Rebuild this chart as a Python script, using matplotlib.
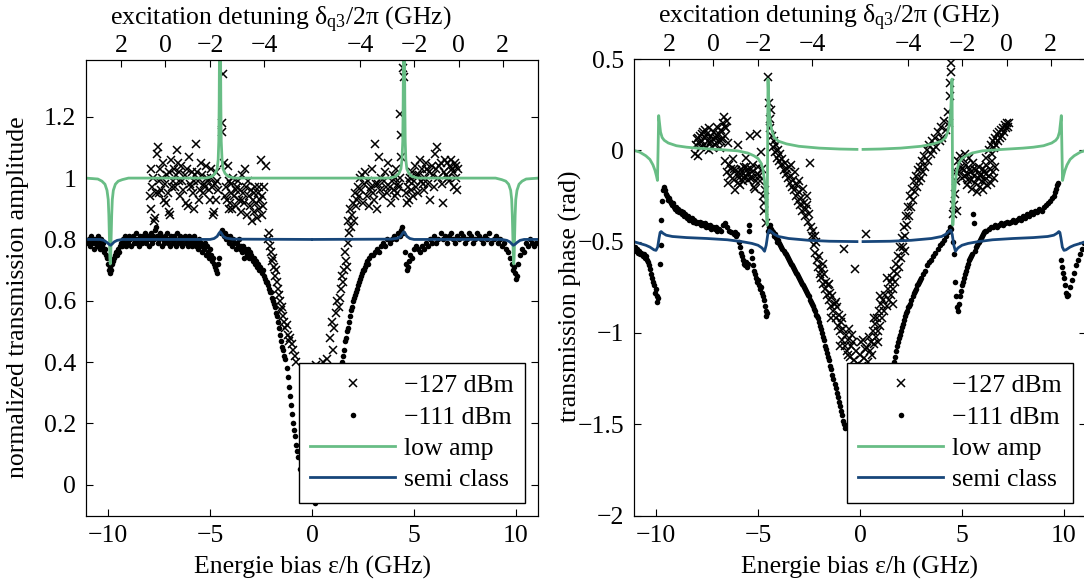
import matplotlib
matplotlib.use("Agg")
import matplotlib.pyplot as plt
import numpy as np

plt.rcParams['font.family'] = ['Liberation Serif', 'DejaVu Serif']
plt.rcParams['font.size'] = 18.5
plt.rcParams['mathtext.fontset'] = 'custom'
plt.rcParams['mathtext.rm'] = 'Liberation Serif'
plt.rcParams['mathtext.it'] = 'Liberation Serif:italic'
plt.rcParams['axes.unicode_minus'] = True

nan = float('nan')

# top axis: bias positions of the detuning labels
det_pos = [-9.35, -7.2, -5.0, -2.35, 2.35, 5.0, 7.2, 9.35]
det_lab = ['2', '0', '\u22122', '\u22124', '\u22124', '\u22122', '0', '2']

# ---------------- amplitude panel ----------------
amp_127 = [
    (-7.95, 0.94), (-7.9, 0.90), (-7.85, 0.97), (-7.8, 1.00), (-7.75, 0.86), (-7.7, 0.87), (-7.6, 1.08),
    (-7.55, 1.10), (-7.5, 0.99), (-7.45, 1.03), (-7.4, 0.96), (-7.3, 1.05), (-7.25, 0.93), (-7.2, 0.98),
    (-7.1, 1.01), (-7.05, 0.95), (-7.0, 0.89), (-6.95, 0.88), (-6.9, 1.06), (-6.8, 0.99), (-6.75, 1.03),
    (-6.7, 0.97), (-6.6, 1.09), (-6.55, 1.05), (-6.5, 0.99), (-6.45, 0.94), (-6.4, 1.04), (-6.3, 0.96),
    (-6.25, 1.01), (-6.2, 0.92), (-6.1, 0.91), (-6.05, 1.07), (-6.0, 0.98), (-5.9, 1.02), (-5.85, 0.95),
    (-5.8, 0.90), (-5.75, 1.01), (-5.7, 1.11), (-5.6, 0.99), (-5.55, 0.93), (-5.5, 0.96), (-5.45, 1.05),
    (-5.4, 1.01), (-5.3, 0.98), (-5.25, 0.97), (-5.2, 1.04), (-5.1, 0.99), (-5.05, 0.96), (-5.0, 0.93),
    (-4.95, 1.00), (-4.9, 0.97), (-4.85, 0.88), (-4.8, 0.89), (-4.75, 0.98), (-4.7, 1.02), (-4.65, 0.99),
    (-4.6, 0.96), (-4.38, 1.34), (-4.4, 1.18), (-4.42, 1.15),
    (-7.9, 1.03), (-7.65, 0.95), (-7.35, 1.00), (-7.15, 0.92), (-6.85, 0.97), (-6.65, 1.01),
    (-6.35, 0.99), (-6.15, 1.03), (-5.95, 0.97), (-5.65, 1.02), (-5.35, 0.95), (-5.15, 1.00),
    (-4.95, 1.03), (-4.7, 0.93), (-5.8, 0.99), (-6.5, 1.02), (-7.0, 1.02), (-7.5, 0.95),
    (-4.3, 1.05), (-4.2, 0.97), (-4.15, 0.93), (-4.1, 1.04), (-4.05, 0.99), (-4.0, 0.92), (-3.95, 0.95),
    (-3.9, 0.90), (-3.85, 1.00), (-3.8, 0.94), (-3.75, 0.91), (-3.7, 0.97), (-3.6, 0.93), (-3.55, 0.96),
    (-3.5, 0.89), (-3.45, 1.01), (-3.4, 0.95), (-3.35, 0.92), (-3.3, 1.03), (-3.25, 0.97), (-3.2, 0.88),
    (-3.1, 0.94), (-3.05, 0.91), (-3.0, 0.96), (-2.95, 0.86), (-2.9, 0.93), (-2.85, 0.89), (-2.8, 0.97),
    (-2.75, 0.92), (-2.7, 0.87), (-2.65, 0.95), (-2.6, 0.90), (-2.55, 0.93), (-2.5, 1.06), (-2.45, 0.94),
    (-2.4, 0.91), (-2.35, 0.97), (-2.25, 1.04),
    (-4.25, 0.94), (-3.95, 0.98), (-3.65, 0.99), (-3.45, 0.93), (-3.15, 0.99), (-2.85, 0.95),
    (-2.6, 0.97), (-2.45, 0.88), (-3.75, 0.96), (-4.05, 0.90),
    (-2.15, 0.80), (-2.1, 0.82), (-2.05, 0.78), (-2.0, 0.76), (-1.95, 0.73), (-1.9, 0.74), (-1.85, 0.71),
    (-1.8, 0.68), (-1.75, 0.70), (-1.7, 0.66), (-1.65, 0.64), (-1.6, 0.62), (-1.55, 0.60), (-1.5, 0.57),
    (-1.45, 0.58), (-1.4, 0.55), (-1.35, 0.53), (-1.3, 0.51), (-1.25, 0.52), (-1.2, 0.49), (-1.15, 0.47),
    (-1.1, 0.48), (-1.0, 0.46), (-0.95, 0.44), (-0.85, 0.42), (-0.8, 0.40),
    (0.2, 0.39), (0.55, 0.40), (0.72, 0.41), (0.88, 0.48), (1.03, 0.44), (0.97, 0.53), (1.1, 0.51),
    (1.2, 0.56), (1.25, 0.60), (1.3, 0.58), (1.37, 0.61), (1.4, 0.64), (1.46, 0.68), (1.5, 0.66),
    (1.55, 0.70), (1.62, 0.76), (1.65, 0.73), (1.7, 0.71), (1.75, 0.79), (1.78, 0.86), (1.82, 0.82),
    (1.86, 0.90), (1.9, 0.84), (1.95, 0.88), (2.0, 0.92), (2.05, 0.86), (2.1, 0.95), (2.15, 0.91),
    (2.2, 0.93), (2.25, 0.97), (2.3, 0.94),
    (2.35, 1.00), (2.4, 0.96), (2.5, 0.92), (2.55, 0.98), (2.6, 1.02), (2.7, 0.94), (2.75, 0.99),
    (2.8, 0.91), (2.9, 0.97), (2.95, 1.03), (3.0, 0.95), (3.05, 0.93), (3.1, 1.11), (3.15, 0.98),
    (3.2, 0.90), (3.3, 1.07), (3.35, 0.96), (3.4, 1.00), (3.5, 0.94), (3.55, 0.99), (3.6, 1.02),
    (3.7, 0.95), (3.75, 1.05), (3.8, 0.97), (3.85, 0.92), (3.9, 0.99), (3.95, 1.01), (4.0, 0.96),
    (4.05, 0.94), (4.1, 1.03), (4.2, 0.98), (4.25, 0.97), (4.3, 1.00), (4.35, 1.07), (4.32, 1.21),
    (4.38, 1.14), (4.47, 1.36), (4.5, 1.33),
    (2.45, 1.01), (2.85, 0.96), (3.25, 0.98), (3.65, 0.97), (4.05, 1.00), (4.15, 0.95),
    (4.6, 0.95), (4.65, 0.92), (4.7, 0.97), (4.75, 0.93), (4.8, 1.00), (4.85, 0.96), (4.9, 1.02),
    (4.95, 0.94), (5.0, 0.99), (5.05, 1.04), (5.1, 0.97), (5.15, 1.01), (5.2, 0.95), (5.3, 1.06),
    (5.35, 0.99), (5.4, 1.03), (5.5, 0.96), (5.55, 1.00), (5.6, 1.05), (5.7, 0.98), (5.75, 1.02),
    (5.8, 0.93), (5.9, 1.04), (5.95, 1.01), (6.0, 0.97), (6.05, 1.08), (6.1, 1.03), (6.15, 1.10),
    (6.2, 1.00), (6.3, 1.05), (6.35, 0.98), (6.4, 0.92), (6.5, 1.06), (6.55, 1.01), (6.6, 1.05),
    (6.7, 0.99), (6.75, 1.04), (6.8, 1.06), (6.9, 1.02), (6.95, 0.97), (7.0, 1.05), (7.05, 1.00),
    (7.1, 0.96), (7.15, 1.03),
    (5.25, 1.01), (5.65, 1.03), (6.25, 1.04), (6.45, 1.02), (6.65, 1.00), (6.85, 1.03),
    (7.05, 1.04), (5.45, 0.98), (4.75, 0.99),
]

amp_111 = [
    (-11.0, 0.79), (-10.95, 0.80), (-10.9, 0.78), (-10.85, 0.81), (-10.8, 0.79), (-10.75, 0.80),
    (-10.7, 0.77), (-10.65, 0.79), (-10.6, 0.80), (-10.55, 0.78), (-10.5, 0.81), (-10.45, 0.79),
    (-10.4, 0.77), (-10.35, 0.80), (-10.3, 0.78), (-10.25, 0.79), (-10.2, 0.76), (-10.15, 0.77),
    (-10.1, 0.75), (-10.05, 0.74), (-10.0, 0.72), (-9.95, 0.70), (-9.92, 0.69), (-9.9, 0.71),
    (-9.85, 0.70), (-9.8, 0.72), (-9.75, 0.73), (-9.7, 0.74), (-9.65, 0.75), (-9.6, 0.76),
    (-9.55, 0.75), (-9.5, 0.77), (-9.45, 0.76), (-9.4, 0.78), (-9.35, 0.79), (-9.3, 0.78),
    (-9.25, 0.80), (-9.2, 0.79), (-9.15, 0.81), (-9.1, 0.78), (-9.05, 0.80), (-9.0, 0.79),
    (-8.95, 0.81), (-8.9, 0.80), (-8.85, 0.78), (-8.8, 0.81), (-8.75, 0.79), (-8.7, 0.80),
    (-8.65, 0.82), (-8.6, 0.79), (-8.55, 0.80), (-8.5, 0.78), (-8.45, 0.81), (-8.4, 0.80),
    (-8.35, 0.79), (-8.3, 0.81), (-8.25, 0.80), (-8.2, 0.82), (-8.15, 0.79), (-8.1, 0.80),
    (-8.05, 0.81), (-8.0, 0.78), (-7.95, 0.80), (-7.9, 0.82), (-7.85, 0.79), (-7.8, 0.81),
    (-7.75, 0.80), (-7.7, 0.83), (-7.65, 0.84), (-7.6, 0.81), (-7.55, 0.79), (-7.5, 0.80),
    (-7.45, 0.82), (-7.4, 0.81), (-7.35, 0.78), (-7.3, 0.80), (-7.25, 0.79), (-7.2, 0.81),
    (-7.15, 0.80), (-7.1, 0.82), (-7.05, 0.79), (-7.0, 0.80), (-6.95, 0.78), (-6.9, 0.81),
    (-6.85, 0.80), (-6.8, 0.79), (-6.75, 0.81), (-6.7, 0.80), (-6.65, 0.78), (-6.6, 0.82),
    (-6.55, 0.79), (-6.5, 0.80), (-6.45, 0.81), (-6.4, 0.79), (-6.35, 0.78), (-6.3, 0.80),
    (-6.25, 0.81), (-6.2, 0.79), (-6.15, 0.80), (-6.1, 0.78), (-6.05, 0.81), (-6.0, 0.79),
    (-5.95, 0.80), (-5.9, 0.78), (-5.85, 0.79), (-5.8, 0.81), (-5.75, 0.80), (-5.7, 0.78),
    (-5.65, 0.79), (-5.6, 0.77), (-5.55, 0.80), (-5.5, 0.78), (-5.45, 0.79), (-5.4, 0.76),
    (-5.35, 0.78), (-5.3, 0.77), (-5.25, 0.79), (-5.2, 0.75), (-5.15, 0.78), (-5.1, 0.76),
    (-5.05, 0.74), (-5.0, 0.77), (-4.95, 0.75), (-4.9, 0.73), (-4.85, 0.74), (-4.8, 0.72),
    (-4.75, 0.71), (-4.7, 0.70), (-4.65, 0.69), (-4.6, 0.72), (-4.55, 0.74),
    (-4.45, 0.82), (-4.4, 0.83), (-4.35, 0.82), (-4.3, 0.81), (-4.25, 0.82), (-4.2, 0.80),
    (-4.15, 0.81), (-4.1, 0.80), (-4.05, 0.79), (-4.0, 0.81), (-3.95, 0.80), (-3.9, 0.78),
    (-3.85, 0.80), (-3.8, 0.79), (-3.75, 0.77), (-3.7, 0.79), (-3.65, 0.78), (-3.6, 0.80),
    (-3.55, 0.77), (-3.5, 0.78), (-3.45, 0.76), (-3.4, 0.78), (-3.35, 0.74), (-3.3, 0.77),
    (-3.25, 0.76), (-3.2, 0.75), (-3.15, 0.77), (-3.1, 0.74), (-3.05, 0.76), (-3.0, 0.75),
    (-2.95, 0.74), (-2.9, 0.73), (-2.85, 0.74), (-2.8, 0.72), (-2.75, 0.73), (-2.7, 0.71),
    (-2.65, 0.72), (-2.6, 0.70), (-2.55, 0.71), (-2.5, 0.70), (-2.45, 0.69), (-2.4, 0.70),
    (-2.35, 0.68), (-2.3, 0.67), (-2.25, 0.66), (-2.2, 0.66), (-2.15, 0.65), (-2.1, 0.64),
    (-2.05, 0.63), (-2.0, 0.63), (-1.95, 0.61), (-1.9, 0.60), (-1.85, 0.59), (-1.8, 0.58),
    (-1.75, 0.56), (-1.7, 0.55), (-1.65, 0.53), (-1.6, 0.51), (-1.55, 0.49), (-1.5, 0.47),
    (-1.45, 0.45), (-1.4, 0.44), (-1.35, 0.42), (-1.3, 0.41), (-1.25, 0.38), (-1.2, 0.35),
    (-1.15, 0.32), (-1.1, 0.29), (-1.05, 0.26), (-1.0, 0.23), (-0.95, 0.20), (-0.9, 0.18),
    (-0.85, 0.16), (-0.8, 0.13), (-0.75, 0.11), (-0.7, 0.09), (-0.6, 0.05), (-0.5, 0.02),
    (0.15, -0.06), (0.4, 0.03), (0.7, 0.14), (1.0, 0.24), (1.2, 0.31), (1.3, 0.35),
    (1.4, 0.38), (1.45, 0.40), (1.5, 0.42), (1.55, 0.44), (1.6, 0.47), (1.65, 0.48),
    (1.7, 0.50), (1.75, 0.51), (1.8, 0.53), (1.85, 0.55), (1.9, 0.57), (1.95, 0.58),
    (2.0, 0.60), (2.05, 0.61), (2.1, 0.62), (2.15, 0.63), (2.2, 0.64), (2.25, 0.65),
    (2.3, 0.66), (2.35, 0.67), (2.4, 0.68), (2.45, 0.69), (2.5, 0.70), (2.55, 0.70),
    (2.6, 0.71), (2.65, 0.72), (2.7, 0.73), (2.75, 0.72), (2.8, 0.74), (2.9, 0.75),
    (3.0, 0.75), (3.1, 0.76), (3.2, 0.77), (3.3, 0.76), (3.4, 0.78), (3.5, 0.79),
    (3.6, 0.78), (3.7, 0.80), (3.8, 0.79), (3.9, 0.80), (4.0, 0.81), (4.1, 0.80),
    (4.2, 0.82), (4.3, 0.81), (4.35, 0.83), (4.4, 0.84), (4.45, 0.82),
    (4.55, 0.76), (4.6, 0.72), (4.65, 0.70), (4.7, 0.71), (4.75, 0.73), (4.8, 0.75),
    (4.9, 0.74), (5.0, 0.77), (5.1, 0.78), (5.2, 0.77), (5.3, 0.76), (5.4, 0.78),
    (5.5, 0.77), (5.6, 0.79), (5.7, 0.78), (5.8, 0.80), (5.9, 0.79), (6.0, 0.81),
    (6.1, 0.79), (6.2, 0.80), (6.3, 0.82), (6.4, 0.80), (6.5, 0.81), (6.6, 0.79),
    (6.7, 0.81), (6.8, 0.82), (6.9, 0.80), (7.0, 0.79), (7.1, 0.81), (7.2, 0.80),
    (7.3, 0.82), (7.4, 0.81), (7.5, 0.79), (7.6, 0.80), (7.7, 0.82), (7.8, 0.81),
    (7.9, 0.79), (8.0, 0.80), (8.1, 0.82), (8.2, 0.81), (8.3, 0.80), (8.4, 0.79),
    (8.5, 0.81), (8.6, 0.80), (8.7, 0.82), (8.8, 0.79), (8.9, 0.80), (9.0, 0.81),
    (9.1, 0.79), (9.2, 0.80), (9.3, 0.78), (9.4, 0.79), (9.5, 0.77), (9.6, 0.76),
    (9.7, 0.74), (9.8, 0.72), (9.85, 0.70), (9.9, 0.71), (9.95, 0.69), (10.0, 0.67),
    (10.05, 0.68), (10.1, 0.72), (10.2, 0.75), (10.3, 0.77), (10.4, 0.76), (10.5, 0.79),
    (10.6, 0.78), (10.7, 0.80), (10.8, 0.79), (10.9, 0.78), (11.0, 0.79),
]

amp_low = [
    (-11.1, 1.0), (-10.5, 0.997), (-10.3, 0.99), (-10.15, 0.98), (-10.05, 0.96), (-9.99, 0.93),
    (-9.96, 0.88), (-9.93, 0.80), (-9.91, 0.74), (-9.89, 0.72), (-9.87, 0.74), (-9.85, 0.80),
    (-9.82, 0.88), (-9.79, 0.93), (-9.74, 0.96), (-9.64, 0.98), (-9.5, 0.99), (-9.3, 0.995),
    (-9.0, 1.0), (-5.2, 1.0), (-4.9, 1.005), (-4.75, 1.015), (-4.65, 1.03), (-4.6, 1.06),
    (-4.57, 1.12), (-4.55, 1.25), (-4.53, 1.5), (-4.51, 1.6), (-4.49, 1.5), (-4.47, 1.25),
    (-4.45, 1.12), (-4.41, 1.06), (-4.36, 1.03), (-4.26, 1.015), (-4.1, 1.005), (-3.8, 1.0),
    (3.8, 1.0), (4.1, 1.005), (4.26, 1.015), (4.36, 1.03), (4.41, 1.06), (4.45, 1.12),
    (4.47, 1.25), (4.49, 1.5), (4.51, 1.6), (4.53, 1.5), (4.55, 1.25), (4.57, 1.12),
    (4.6, 1.06), (4.65, 1.03), (4.75, 1.015), (4.9, 1.005), (5.2, 1.0), (9.0, 1.0),
    (9.3, 0.995), (9.5, 0.99), (9.64, 0.98), (9.74, 0.96), (9.79, 0.93), (9.82, 0.88),
    (9.85, 0.80), (9.87, 0.74), (9.89, 0.72), (9.91, 0.74), (9.93, 0.80), (9.96, 0.88),
    (9.99, 0.93), (10.05, 0.96), (10.15, 0.98), (10.3, 0.99), (10.5, 0.997), (11.1, 1.0),
]

amp_semi = [
    (-11.1, 0.80), (-10.4, 0.80), (-10.2, 0.797), (-10.05, 0.79), (-9.95, 0.784), (-9.87, 0.781),
    (-9.8, 0.785), (-9.7, 0.792), (-9.55, 0.797), (-9.3, 0.80), (-5.0, 0.80), (-4.8, 0.803),
    (-4.65, 0.81), (-4.56, 0.82), (-4.5, 0.825), (-4.44, 0.82), (-4.35, 0.81), (-4.2, 0.804),
    (-3.9, 0.801), (-0.05, 0.80), (0.0, nan), (0.05, 0.80), (3.9, 0.801), (4.2, 0.804),
    (4.35, 0.81), (4.44, 0.82), (4.5, 0.825), (4.56, 0.82), (4.65, 0.81), (4.8, 0.803),
    (5.0, 0.80), (9.3, 0.80), (9.55, 0.797), (9.7, 0.792), (9.8, 0.785), (9.87, 0.781),
    (9.95, 0.784), (10.05, 0.79), (10.2, 0.797), (10.4, 0.80), (11.1, 0.80),
]

# ---------------- phase panel ----------------
ph_127 = [
    (-8.1, -0.02), (-8.05, 0.03), (-8.0, 0.06), (-7.95, -0.03), (-7.9, 0.04), (-7.85, 0.08),
    (-7.8, 0.02), (-7.75, 0.05), (-7.7, 0.10), (-7.65, 0.03), (-7.6, 0.07), (-7.55, 0.01),
    (-7.5, 0.09), (-7.45, 0.05), (-7.4, 0.12), (-7.35, 0.04), (-7.3, 0.08), (-7.25, 0.02),
    (-7.2, 0.06), (-7.15, 0.10), (-7.1, 0.03), (-7.05, 0.07), (-7.0, 0.13), (-6.95, 0.05),
    (-6.9, 0.09), (-6.85, 0.01), (-6.8, 0.11), (-6.75, 0.06), (-6.7, 0.15), (-6.65, 0.18),
    (-6.6, 0.08), (-6.55, 0.12), (-6.5, 0.16), (-6.45, 0.04),
    (-7.95, 0.07), (-7.6, 0.11), (-7.3, 0.05), (-7.0, 0.08), (-6.8, 0.05), (-6.6, 0.13),
    (-7.4, 0.00), (-7.75, 0.09),
    (-6.6, -0.06), (-6.5, -0.12), (-6.45, -0.18), (-6.4, -0.08), (-6.35, -0.14), (-6.3, -0.10),
    (-6.25, -0.05), (-6.2, -0.16), (-6.15, -0.22), (-6.1, -0.11), (-6.05, -0.13), (-6.0, 0.03),
    (-5.95, -0.15), (-5.9, -0.19), (-5.85, -0.10), (-5.8, -0.12), (-5.75, -0.17), (-5.7, -0.09),
    (-5.65, -0.14), (-5.6, -0.04), (-5.55, -0.11), (-5.5, -0.16), (-5.45, -0.13), (-5.4, 0.08),
    (-5.35, -0.10), (-5.3, -0.15), (-5.25, -0.08), (-5.2, -0.20), (-5.15, -0.21), (-5.1, -0.17),
    (-5.05, 0.09), (-5.0, -0.09), (-4.95, -0.14), (-4.9, -0.17), (-4.85, -0.01), (-4.8, -0.10),
    (-4.75, -0.25), (-4.72, -0.29), (-4.7, -0.33), (-4.68, -0.22), (-4.63, -0.40),
    (-6.2, -0.10), (-5.9, -0.13), (-5.6, -0.09), (-5.3, -0.12), (-5.0, -0.13), (-5.7, -0.15),
    (-6.0, -0.18), (-5.4, -0.15),
    (-4.49, 0.40), (-4.45, 0.26), (-4.42, 0.17), (-4.4, 0.12), (-4.35, 0.22),
    (-4.3, 0.08), (-4.25, 0.02), (-4.2, 0.05), (-4.15, -0.01), (-4.1, 0.03), (-4.05, -0.04),
    (-4.0, 0.00), (-3.95, -0.06), (-3.9, -0.02), (-3.85, -0.08), (-3.8, -0.05), (-3.75, -0.11),
    (-3.7, -0.07), (-3.65, -0.13), (-3.6, -0.10), (-3.55, -0.15), (-3.5, -0.09), (-3.45, -0.18),
    (-3.4, -0.14), (-3.35, -0.20), (-3.3, -0.16), (-3.25, -0.22), (-3.2, -0.12), (-3.15, -0.25),
    (-3.1, -0.19), (-3.05, -0.28), (-3.0, -0.23), (-2.95, -0.30), (-2.9, -0.26), (-2.85, -0.33),
    (-2.8, -0.21), (-2.75, -0.29), (-2.7, -0.36), (-2.65, -0.32), (-2.6, -0.25), (-2.55, -0.39),
    (-2.5, -0.35), (-2.45, -0.07), (-2.4, -0.42), (-2.35, -0.47), (-2.3, -0.44), (-2.25, -0.52),
    (-2.2, -0.56), (-2.15, -0.50), (-2.1, -0.60), (-2.05, -0.64), (-2.0, -0.58), (-1.95, -0.68),
    (-1.9, -0.70), (-1.85, -0.65), (-1.8, -0.73), (-1.75, -0.68), (-1.7, -0.76), (-1.65, -0.72),
    (-1.6, -0.79), (-1.55, -0.74), (-1.5, -0.82), (-1.45, -0.78), (-1.4, -0.85), (-1.35, -0.80),
    (-1.3, -0.88), (-1.25, -0.84), (-1.2, -0.92), (-1.15, -0.86), (-1.1, -0.96), (-1.05, -0.90),
    (-1.0, -0.99), (-0.95, -0.94), (-0.9, -1.04), (-0.85, -0.98), (-0.8, -0.54), (-0.75, -1.07),
    (-0.7, -1.01), (-0.65, -1.10), (-0.6, -1.04), (-0.55, -0.98), (-0.5, -1.13), (-0.45, -1.07),
    (-0.4, -1.01), (-0.3, -1.15), (-0.25, -0.65), (-0.2, -1.10), (-0.1, -1.17), (0.0, -1.12),
    (0.1, -1.18), (0.15, -1.04), (0.2, -1.14), (0.3, -0.46), (0.35, -1.08), (0.4, -1.16),
    (0.45, -1.02), (0.5, -1.10), (0.55, -1.05), (0.6, -1.12), (0.65, -0.99), (0.7, -1.06),
    (0.75, -0.95), (0.8, -1.02), (0.85, -0.92), (0.9, -0.99), (0.95, -0.88), (1.0, -0.96),
    (1.05, -0.84), (1.1, -0.92), (1.15, -0.82), (1.2, -0.88), (1.25, -0.79), (1.3, -0.85),
    (1.35, -0.76), (1.4, -0.82), (1.45, -0.72), (1.5, -0.79), (1.55, -0.70), (1.6, -0.76),
    (1.65, -0.66), (1.7, -0.72), (1.75, -0.62), (1.8, -0.68), (1.85, -0.58), (1.9, -0.64),
    (1.95, -0.53), (2.0, -0.59), (2.05, -0.48), (2.1, -0.53), (2.15, -0.42), (2.2, -0.47),
    (2.25, -0.36), (2.3, -0.41), (2.35, -0.31), (2.4, -0.36), (2.45, -0.25), (2.5, -0.31),
    (2.55, -0.21), (2.6, -0.27), (2.65, -0.17), (2.7, -0.23), (2.75, -0.14), (2.8, -0.20),
    (2.85, -0.11), (2.9, -0.17), (2.95, -0.09), (3.0, -0.15), (3.05, -0.06), (3.1, -0.12),
    (3.15, -0.03), (3.2, -0.09), (3.3, 0.00), (3.35, -0.06), (3.4, 0.03), (3.5, -0.02),
    (3.55, 0.05), (3.6, 0.00), (3.7, 0.07), (3.75, 0.02), (3.8, 0.10), (3.9, 0.05),
    (3.95, 0.13), (4.0, 0.07), (4.1, 0.16), (4.2, 0.11), (4.3, 0.21), (4.35, 0.15),
    (4.4, 0.30), (4.42, 0.37), (4.44, 0.43), (4.46, 0.48),
    (-1.8, -0.62), (-1.5, -0.73), (-1.2, -0.83), (-0.9, -0.92), (-0.6, -1.12), (-0.35, -1.05),
    (0.05, -1.05), (0.25, -1.09), (0.7, -0.92), (1.0, -0.80), (1.3, -0.70), (-2.2, -0.47),
    (-2.6, -0.30), (-3.0, -0.17), (-3.4, -0.08), (-1.4, -0.92), (-1.0, -1.07), (0.9, -1.05),
    (1.6, -0.84), (2.2, -0.55),
    (4.58, -0.35), (4.62, -0.30), (4.66, -0.24), (4.7, -0.17), (4.75, -0.33), (4.72, -0.12),
    (4.8, -0.06), (4.85, -0.12), (4.9, -0.03), (4.95, -0.09), (5.0, -0.15), (5.05, -0.05),
    (5.1, -0.11), (5.15, -0.02), (5.2, -0.08), (5.25, -0.19), (5.3, -0.13), (5.35, -0.04),
    (5.4, -0.10), (5.45, -0.16), (5.5, -0.21), (5.55, -0.07), (5.6, -0.14), (5.65, -0.18),
    (5.7, -0.11), (5.75, -0.23), (5.8, -0.15), (5.85, -0.09), (5.9, -0.20), (5.95, -0.13),
    (6.0, -0.17), (6.05, -0.22), (6.1, -0.12), (6.15, -0.16), (6.2, -0.08), (6.25, -0.19),
    (6.3, -0.14), (6.35, -0.10), (6.4, -0.18), (6.45, -0.06), (6.5, -0.12), (6.55, -0.15),
    (6.6, -0.09),
    (5.0, -0.10), (5.3, -0.16), (5.6, -0.10), (5.9, -0.14), (6.2, -0.13), (5.45, -0.12),
    (5.15, -0.14), (6.05, -0.10),
    (6.2, -0.04), (6.3, 0.00), (6.4, 0.03), (6.45, -0.02), (6.5, 0.05), (6.55, 0.01),
    (6.6, 0.07), (6.65, 0.03), (6.7, 0.09), (6.75, 0.05), (6.8, 0.10), (6.85, 0.07),
    (6.9, 0.11), (6.95, 0.08), (7.0, 0.12), (7.05, 0.10), (7.1, 0.14), (7.15, 0.12),
    (7.2, 0.15), (7.25, 0.13), (7.3, 0.15),
]

ph_111 = [
    (-11.05, -0.53), (-11.0, -0.55), (-10.95, -0.54), (-10.9, -0.56), (-10.85, -0.55), (-10.8, -0.57),
    (-10.75, -0.56), (-10.7, -0.57), (-10.65, -0.58), (-10.6, -0.57), (-10.55, -0.59), (-10.5, -0.58),
    (-10.45, -0.60), (-10.4, -0.61), (-10.35, -0.63), (-10.3, -0.65), (-10.25, -0.68), (-10.2, -0.70),
    (-10.15, -0.72), (-10.1, -0.74), (-10.05, -0.78), (-10.0, -0.76), (-9.97, -0.80), (-9.95, -0.83),
    (-9.92, -0.81), (-9.8, -0.62), (-9.78, -0.52), (-9.75, -0.38), (-9.7, -0.28), (-9.65, -0.22),
    (-9.6, -0.20), (-9.55, -0.22), (-9.5, -0.24), (-9.45, -0.25), (-9.4, -0.27), (-9.35, -0.26),
    (-9.3, -0.28), (-9.25, -0.29), (-9.2, -0.30), (-9.15, -0.29), (-9.1, -0.31), (-9.05, -0.32),
    (-9.0, -0.31), (-8.95, -0.33), (-8.9, -0.32), (-8.85, -0.34), (-8.8, -0.33), (-8.75, -0.35),
    (-8.7, -0.34), (-8.65, -0.36), (-8.6, -0.35), (-8.55, -0.36), (-8.5, -0.37), (-8.45, -0.36),
    (-8.4, -0.38), (-8.35, -0.37), (-8.3, -0.38), (-8.25, -0.37), (-8.2, -0.39), (-8.15, -0.38),
    (-8.1, -0.39), (-8.05, -0.40), (-8.0, -0.39), (-7.9, -0.40), (-7.85, -0.39), (-7.8, -0.41),
    (-7.75, -0.40), (-7.7, -0.41), (-7.6, -0.40), (-7.55, -0.42), (-7.5, -0.41), (-7.4, -0.42),
    (-7.35, -0.41), (-7.3, -0.43), (-7.2, -0.42), (-7.1, -0.43), (-7.05, -0.42), (-7.0, -0.44),
    (-6.9, -0.43), (-6.8, -0.44), (-6.7, -0.41), (-6.6, -0.40), (-6.5, -0.42), (-6.4, -0.44),
    (-6.3, -0.45), (-6.2, -0.46), (-6.15, -0.45), (-6.1, -0.47), (-6.05, -0.46),
    (-5.95, -0.50), (-5.9, -0.53), (-5.85, -0.56), (-5.8, -0.58), (-5.75, -0.60), (-5.7, -0.62),
    (-5.65, -0.63), (-5.6, -0.61), (-5.55, -0.64), (-5.5, -0.62), (-5.45, -0.41), (-5.42, -0.44),
    (-5.35, -0.55), (-5.3, -0.59), (-5.25, -0.63), (-5.2, -0.66), (-5.15, -0.68), (-5.1, -0.70),
    (-5.05, -0.72), (-5.0, -0.71), (-4.95, -0.74), (-4.9, -0.76), (-4.85, -0.75), (-4.8, -0.78),
    (-4.75, -0.80), (-4.7, -0.82), (-4.65, -0.85), (-4.62, -0.88), (-4.6, -0.91), (-4.58, -0.89),
    (-4.5, -0.44), (-4.45, -0.42), (-4.4, -0.41), (-4.35, -0.43), (-4.3, -0.44), (-4.25, -0.45),
    (-4.2, -0.47), (-4.15, -0.46), (-4.1, -0.48), (-4.05, -0.50), (-4.0, -0.49), (-3.95, -0.51),
    (-3.9, -0.52), (-3.85, -0.53), (-3.8, -0.54), (-3.75, -0.55), (-3.7, -0.56), (-3.65, -0.57),
    (-3.6, -0.58), (-3.55, -0.59), (-3.5, -0.60), (-3.45, -0.61), (-3.4, -0.62), (-3.35, -0.63),
    (-3.3, -0.64), (-3.25, -0.65), (-3.2, -0.66), (-3.15, -0.67), (-3.1, -0.68), (-3.05, -0.69),
    (-3.0, -0.70), (-2.95, -0.71), (-2.9, -0.72), (-2.85, -0.73), (-2.8, -0.74), (-2.75, -0.75),
    (-2.7, -0.76), (-2.65, -0.77), (-2.6, -0.78), (-2.55, -0.79), (-2.5, -0.80), (-2.45, -0.82),
    (-2.4, -0.83), (-2.35, -0.84), (-2.3, -0.85), (-2.25, -0.87), (-2.2, -0.88), (-2.15, -0.90),
    (-2.1, -0.91), (-2.05, -0.92), (-2.0, -0.94), (-1.95, -0.96), (-1.9, -0.98), (-1.85, -1.00),
    (-1.8, -1.02), (-1.75, -1.04), (-1.7, -1.07), (-1.65, -1.09), (-1.6, -1.11), (-1.55, -1.13),
    (-1.5, -1.15), (-1.45, -1.18), (-1.4, -1.20), (-1.35, -1.23), (-1.3, -1.25), (-1.25, -1.28),
    (-1.2, -1.30), (-1.15, -1.33), (-1.1, -1.35), (-1.05, -1.38), (-1.0, -1.40), (-0.95, -1.43),
    (-0.9, -1.45), (-0.85, -1.48), (-0.8, -1.50), (-0.75, -1.52),
    (1.55, -1.22), (1.6, -1.19), (1.65, -1.16), (1.7, -1.13), (1.75, -1.10), (1.8, -1.07),
    (1.85, -1.05), (1.9, -1.03), (1.95, -1.01), (2.0, -0.99), (2.05, -0.97), (2.1, -0.95),
    (2.15, -0.93), (2.2, -0.91), (2.25, -0.89), (2.3, -0.88), (2.35, -0.86), (2.4, -0.85),
    (2.45, -0.84), (2.5, -0.82), (2.6, -0.80), (2.65, -0.78), (2.7, -0.77), (2.75, -0.76),
    (2.8, -0.74), (2.85, -0.73), (2.9, -0.72), (2.95, -0.71), (3.0, -0.70), (3.1, -0.68),
    (3.2, -0.66), (3.3, -0.63), (3.4, -0.61), (3.5, -0.60), (3.6, -0.58), (3.7, -0.56),
    (3.8, -0.54), (3.9, -0.52), (4.0, -0.51), (4.1, -0.49), (4.2, -0.47), (4.3, -0.45),
    (4.35, -0.44), (4.4, -0.42), (4.45, -0.43),
    (4.55, -0.50), (4.6, -0.57), (4.65, -0.72), (4.7, -0.80), (4.75, -0.86), (4.8, -0.88),
    (4.85, -0.84), (4.9, -0.80), (4.95, -0.77), (5.0, -0.74), (5.05, -0.72), (5.1, -0.70),
    (5.15, -0.68), (5.2, -0.66), (5.25, -0.64), (5.3, -0.62), (5.35, -0.60), (5.4, -0.59),
    (5.45, -0.58), (5.5, -0.57), (5.55, -0.35), (5.6, -0.40), (5.65, -0.55), (5.7, -0.53),
    (5.75, -0.52), (5.8, -0.51), (5.85, -0.50), (5.9, -0.49), (5.95, -0.48), (6.0, -0.47),
    (6.05, -0.46), (6.1, -0.45), (6.15, -0.44), (6.2, -0.44), (6.3, -0.43), (6.4, -0.42),
    (6.5, -0.42), (6.6, -0.41), (6.7, -0.42), (6.8, -0.41), (6.9, -0.40), (7.0, -0.41),
    (7.1, -0.40), (7.2, -0.39), (7.3, -0.40), (7.4, -0.39), (7.5, -0.38), (7.6, -0.39),
    (7.7, -0.38), (7.8, -0.37), (7.9, -0.38), (8.0, -0.36), (8.1, -0.37), (8.2, -0.35),
    (8.3, -0.36), (8.4, -0.34), (8.5, -0.35), (8.6, -0.33), (8.7, -0.34), (8.8, -0.32),
    (8.9, -0.33), (9.0, -0.31), (9.1, -0.30), (9.2, -0.29), (9.3, -0.28), (9.4, -0.26),
    (9.5, -0.25), (9.55, -0.23), (9.6, -0.21), (9.65, -0.19), (9.7, -0.18),
    (9.85, -0.60), (9.9, -0.64), (9.95, -0.67), (10.0, -0.70), (10.05, -0.74), (10.1, -0.78),
    (10.15, -0.80), (10.2, -0.79), (10.3, -0.75), (10.4, -0.71), (10.5, -0.67), (10.6, -0.63),
    (10.7, -0.60), (10.8, -0.57), (10.9, -0.54), (11.0, -0.51),
]

ph_low = [
    (-11.1, 0.0), (-10.8, -0.01), (-10.5, -0.03), (-10.3, -0.05), (-10.15, -0.08), (-10.05, -0.11),
    (-9.98, -0.14), (-9.93, -0.165), (-9.9, 0.0), (-9.87, 0.19), (-9.83, 0.15), (-9.78, 0.10),
    (-9.7, 0.07), (-9.6, 0.055), (-9.4, 0.04), (-9.0, 0.025), (-8.5, 0.017), (-8.0, 0.012),
    (-7.0, 0.005), (-6.0, -0.003), (-5.5, -0.015), (-5.2, -0.03), (-5.0, -0.045), (-4.85, -0.07),
    (-4.75, -0.11), (-4.68, -0.17), (-4.62, -0.26), (-4.58, -0.35), (-4.55, -0.41), (-4.53, 0.0),
    (-4.51, 0.39), (-4.48, 0.30), (-4.44, 0.20), (-4.38, 0.14), (-4.3, 0.10), (-4.2, 0.07),
    (-4.0, 0.05), (-3.6, 0.035), (-3.0, 0.022), (-2.0, 0.012), (-1.0, 0.007), (-0.15, 0.005),
    (0.0, nan), (0.15, 0.005), (1.0, 0.007), (2.0, 0.012), (3.0, 0.022), (3.6, 0.035),
    (4.0, 0.05), (4.2, 0.07), (4.3, 0.10), (4.38, 0.14), (4.44, 0.20), (4.48, 0.30),
    (4.51, 0.39), (4.53, 0.0), (4.55, -0.41), (4.58, -0.35), (4.62, -0.26), (4.68, -0.17),
    (4.75, -0.11), (4.85, -0.07), (5.0, -0.045), (5.2, -0.03), (5.5, -0.015), (6.0, -0.003),
    (7.0, 0.005), (8.0, 0.012), (8.5, 0.017), (9.0, 0.025), (9.4, 0.04), (9.6, 0.055),
    (9.7, 0.07), (9.78, 0.10), (9.83, 0.15), (9.87, 0.19), (9.9, 0.0), (9.93, -0.165),
    (9.98, -0.14), (10.05, -0.11), (10.15, -0.08), (10.3, -0.05), (10.5, -0.03), (10.8, -0.01),
    (11.1, 0.0),
]

ph_semi = [
    (-11.1, -0.50), (-10.8, -0.51), (-10.5, -0.52), (-10.3, -0.53), (-10.1, -0.545), (-10.0, -0.548),
    (-9.92, -0.53), (-9.85, -0.48), (-9.8, -0.45), (-9.75, -0.445), (-9.65, -0.455), (-9.5, -0.465),
    (-9.2, -0.472), (-8.5, -0.478), (-7.5, -0.483), (-6.5, -0.49), (-5.8, -0.50), (-5.3, -0.51),
    (-5.0, -0.52), (-4.8, -0.535), (-4.68, -0.553), (-4.6, -0.52), (-4.52, -0.46), (-4.45, -0.437),
    (-4.35, -0.445), (-4.2, -0.46), (-4.0, -0.472), (-3.5, -0.483), (-2.5, -0.493), (-1.5, -0.498),
    (-0.15, -0.50), (0.0, nan), (0.15, -0.50), (1.5, -0.498), (2.5, -0.493), (3.5, -0.483),
    (4.0, -0.472), (4.2, -0.46), (4.35, -0.445), (4.45, -0.437), (4.52, -0.46), (4.6, -0.52),
    (4.68, -0.553), (4.8, -0.535), (5.0, -0.52), (5.3, -0.51), (5.8, -0.50), (6.5, -0.49),
    (7.5, -0.483), (8.5, -0.478), (9.2, -0.472), (9.5, -0.465), (9.65, -0.455), (9.75, -0.445),
    (9.8, -0.45), (9.85, -0.48), (9.92, -0.53), (10.0, -0.548), (10.1, -0.545), (10.3, -0.53),
    (10.5, -0.52), (10.8, -0.51), (11.1, -0.50),
]

green = '#68bd85'
navy = '#17467a'
W, H = 1084, 588


def draw_panel(rect, x127, x111, low, semi, ylim, yticks, ylabels, ylabel, ylab_x):
    ax = fig.add_axes(rect)
    c = np.array(x127)
    d = np.array(x111)
    g = np.array(low)
    s = np.array(semi)
    ax.plot(c[:, 0], c[:, 1], 'x', color='k', ms=6, mew=1.1, ls='none', label='\u2212127 dBm')
    ax.plot(d[:, 0], d[:, 1], 'o', color='k', ms=4.0, mew=0, ls='none', label='\u2212111 dBm')
    ax.plot(g[:, 0], g[:, 1], '-', color=green, lw=2.0, label='low amp')
    ax.plot(s[:, 0], s[:, 1], '-', color=navy, lw=2.0, label='semi class')
    ax.set_xlim(-11.08, 11.08)
    ax.set_ylim(*ylim)
    ax.set_xticks([-10, -5, 0, 5, 10])
    ax.set_yticks(yticks)
    ax.set_yticklabels(ylabels)
    ax.tick_params(direction='in', length=5, width=0.8, right=True, top=False, pad=7)
    ax.set_xlabel('Energie bias \u03b5/h (GHz)', labelpad=6)
    ax.set_ylabel(ylabel)
    ax.yaxis.set_label_coords(ylab_x, 0.48)
    leg = ax.legend(loc='lower right', fancybox=False, edgecolor='k', framealpha=1,
                    handlelength=3.3, handletextpad=0.35, labelspacing=0.32,
                    borderpad=0.45, borderaxespad=0.5, numpoints=1)
    leg.get_frame().set_linewidth(1.0)
    leg.set_zorder(10)
    top = ax.twiny()
    top.set_xlim(ax.get_xlim())
    top.set_xticks(det_pos)
    top.set_xticklabels(det_lab)
    top.tick_params(direction='in', length=5, width=0.8, pad=2)
    ax.text(0.43, 1.077, 'excitation detuning \u03b4$_{\\mathrm{q3}}$/2\u03c0 (GHz)',
            transform=ax.transAxes, ha='center', va='baseline')
    return ax


fig = plt.figure(figsize=(W / 100, H / 100), dpi=100)

draw_panel([86 / W, (H - 515.5) / H, 452 / W, 455.5 / H], amp_127, amp_111, amp_low, amp_semi,
           (-0.1, 1.385), [0, 0.2, 0.4, 0.6, 0.8, 1.0, 1.2],
           ['0', '0.2', '0.4', '0.6', '0.8', '1', '1.2'], 'normalized transmission amplitude', -0.125)

draw_panel([634 / W, (H - 515.5) / H, 452 / W, 456.5 / H], ph_127, ph_111, ph_low, ph_semi,
           (-2.0, 0.5), [-2, -1.5, -1, -0.5, 0, 0.5],
           ['\u22122', '\u22121.5', '\u22121', '\u22120.5', '0', '0.5'], 'transmission phase (rad)', -0.116)

fig.savefig('out.png', dpi=100)
